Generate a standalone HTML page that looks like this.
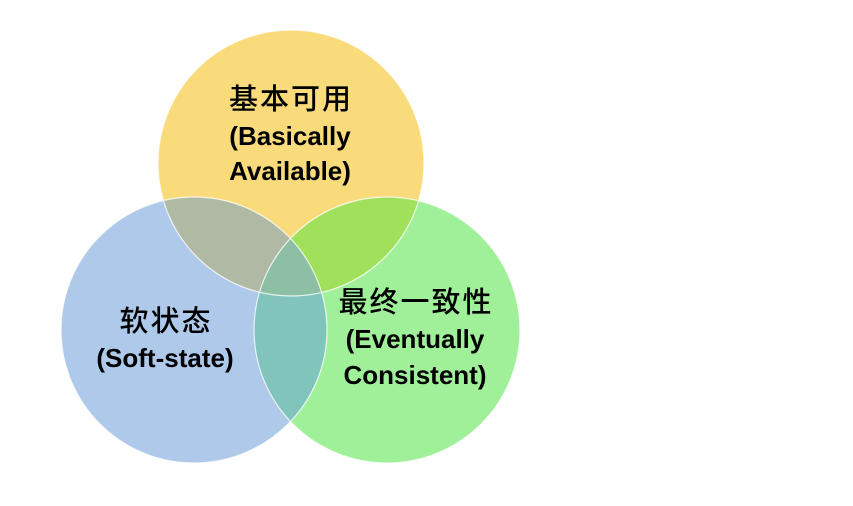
<!DOCTYPE html>
<html><head><meta charset="utf-8"><style>
html,body{margin:0;padding:0;background:#fff;width:853px;height:506px;overflow:hidden}
text{font-family:"Liberation Sans","Noto Sans CJK SC",sans-serif;fill:#000}
.cn{font-size:29px;letter-spacing:2px;font-weight:500}
.en{font-size:26px;font-weight:bold}
</style></head><body>
<svg width="853" height="506" viewBox="0 0 853 506">
<defs>
<clipPath id="cy"><circle cx="291" cy="163" r="133"/></clipPath>
<clipPath id="cb"><circle cx="194" cy="330" r="133"/></clipPath>
<clipPath id="cg"><circle cx="387" cy="330" r="133"/></clipPath>
</defs>
<circle cx="291" cy="163" r="133" fill="#FADB7C"/>
<circle cx="194" cy="330" r="133" fill="#AFC9EA"/>
<circle cx="387" cy="330" r="133" fill="#A0F09A"/>
<g clip-path="url(#cy)">
<circle cx="194" cy="330" r="133" fill="#AFB9A3"/>
<circle cx="387" cy="330" r="133" fill="#A0E05A"/>
</g>
<g clip-path="url(#cb)">
<circle cx="387" cy="330" r="133" fill="#80C4BC"/>
<g clip-path="url(#cy)"><circle cx="387" cy="330" r="133" fill="#8CBFA4"/></g>
</g>
<g fill="none" stroke="#fff" stroke-width="1.2" opacity="0.8">
<circle cx="291" cy="163" r="133"/>
<circle cx="194" cy="330" r="133"/>
<circle cx="387" cy="330" r="133"/>
</g>
<text class="cn" x="291" y="109" text-anchor="middle">基本可用</text>
<text class="en" x="290" y="145" text-anchor="middle">(Basically</text>
<text class="en" x="290" y="180" text-anchor="middle">Available)</text>
<text class="cn" x="166" y="331" text-anchor="middle">软状态</text>
<text class="en" x="165" y="367" text-anchor="middle">(Soft-state)</text>
<text class="cn" x="416" y="312" text-anchor="middle">最终一致性</text>
<text class="en" x="415" y="348" text-anchor="middle">(Eventually</text>
<text class="en" x="415" y="384" text-anchor="middle">Consistent)</text>
</svg>
</body></html>
